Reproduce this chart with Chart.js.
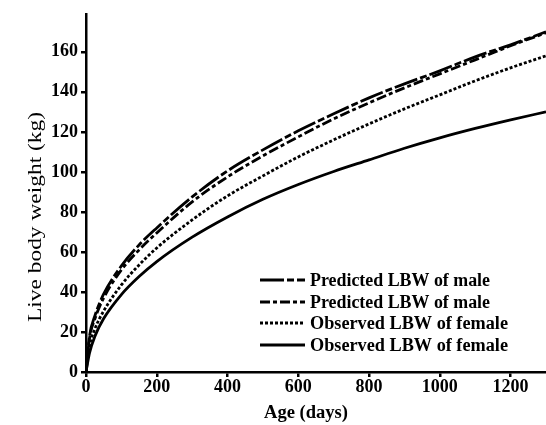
<!DOCTYPE html>
<html>
<head>
<meta charset="utf-8">
<script src="https://cdn.jsdelivr.net/npm/chart.js@4"></script>
<style>
  body { margin: 0; background: #fff; }
  #wrap { width: 546px; height: 425px; }
</style>
</head>
<body>
<div id="wrap"><canvas id="myChart"></canvas></div>
<script>
// data (age in days, weight in kg)
const ages = [0, 10, 25, 50, 100, 150, 200, 300, 400, 500, 600, 700, 800, 900, 1000, 1100, 1200, 1300];
const predMaleA = [0, 18, 28, 39, 53, 63.5, 72, 87.5, 100.5, 111, 120.5, 129, 137, 144, 150.5, 157.5, 163.5, 170];
const predMaleB = [0, 17, 26.5, 37, 51, 61, 69.5, 85, 97.5, 108, 117.5, 126.5, 134.5, 142, 149, 156, 163, 169.5];
const obsFemaleA = [0, 13, 21.5, 30.5, 43.5, 53.5, 62, 76, 88, 98, 107.5, 116, 124, 131.5, 138.5, 145.5, 152, 158];
const obsFemaleB = [0, 9.5, 17.8, 26.7, 38.7, 47.7, 55.2, 67.4, 77.5, 86.3, 93.7, 100.2, 106, 111.8, 117, 121.7, 126, 130];
const seriesLabels = ['Predicted LBW of male', 'Predicted LBW of male', 'Observed LBW of female', 'Observed LBW of female'];
const xTicks = [0, 200, 400, 600, 800, 1000, 1200];
const yTicks = [0, 20, 40, 60, 80, 100, 120, 140, 160];

const FONT = '"Liberation Serif", "DejaVu Serif", serif';
const dashes = [[24, 3, 7, 3], [10, 3, 4, 3], [3, 2], []];

const toPts = (ys) => ages.map((a, i) => ({ x: a, y: ys[i] }));

const datasets = [predMaleA, predMaleB, obsFemaleA, obsFemaleB].map((ys, i) => ({
  label: seriesLabels[i],
  data: toPts(ys),
  borderColor: '#000',
  borderWidth: 2.8,
  borderDash: dashes[i],
  pointRadius: 0,
  cubicInterpolationMode: 'monotone',
  fill: false
}));

// draw text squeezed/stretched to a given width (the scan's lettering is a bit distorted)
function fitText(ctx, txt, x, y, w) {
  const m = ctx.measureText(txt).width;
  ctx.save();
  ctx.translate(x, y);
  ctx.scale(w / m, 1);
  ctx.fillText(txt, 0, 0);
  ctx.restore();
}

// titles + legend drawn by hand so they sit where the figure has them
const annotations = {
  id: 'annotations',
  afterDraw(chart) {
    const ctx = chart.ctx;
    ctx.save();
    ctx.fillStyle = '#000';
    ctx.textBaseline = 'middle';
    ctx.textAlign = 'center';
    ctx.font = 'bold 18px ' + FONT;
    fitText(ctx, 'Age (days)', 306, 413, 84);
    ctx.save();
    ctx.translate(36, 217);
    ctx.rotate(-Math.PI / 2);
    ctx.font = '18px ' + FONT;
    fitText(ctx, 'Live body weight (kg)', 0, 0, 210);
    ctx.restore();

    const rows = [280, 302, 323, 345];
    const widths = [180, 180, 198, 198];
    ctx.textAlign = 'left';
    ctx.font = 'bold 18px ' + FONT;
    chart.data.datasets.forEach((ds, i) => {
      ctx.strokeStyle = '#000';
      ctx.lineWidth = 2.8;
      ctx.setLineDash(ds.borderDash);
      ctx.beginPath();
      ctx.moveTo(260, rows[i]);
      ctx.lineTo(305, rows[i]);
      ctx.stroke();
      ctx.setLineDash([]);
      fitText(ctx, ds.label, 310, rows[i] + 1, widths[i]);
    });
    ctx.restore();
  }
};

new Chart(document.getElementById('myChart'), {
  type: 'line',
  data: { datasets },
  plugins: [annotations],
  options: {
    responsive: true,
    maintainAspectRatio: false,
    animation: false,
    layout: { padding: { top: 7, right: 0, left: 0, bottom: 0 } },
    plugins: { legend: { display: false }, tooltip: { enabled: false } },
    scales: {
      x: {
        type: 'linear',
        min: 0,
        max: 1300,
        afterBuildTicks: (s) => { s.ticks = xTicks.map(v => ({ value: v })); },
        afterFit: (s) => { s.height = 53; },
        border: { display: true, color: '#000', width: 2.5 },
        grid: { drawOnChartArea: false, drawTicks: true, tickLength: 5, color: '#000', lineWidth: 2.5 },
        ticks: {
          color: '#000', padding: 0, maxRotation: 0,
          callback: (v) => String(v),
          font: { family: FONT, size: 18, weight: 'bold' }
        }
      },
      y: {
        min: 0,
        max: 179,
        afterBuildTicks: (s) => { s.ticks = yTicks.map(v => ({ value: v })); },
        afterFit: (s) => { s.width = 86; },
        border: { display: true, color: '#000', width: 2.5 },
        grid: { drawOnChartArea: false, drawTicks: true, tickLength: 5, color: '#000', lineWidth: 2.5 },
        ticks: {
          color: '#000', padding: 3,
          callback: (v) => String(v),
          font: { family: FONT, size: 18, weight: 'bold' }
        }
      }
    }
  }
});
</script>
</body>
</html>
